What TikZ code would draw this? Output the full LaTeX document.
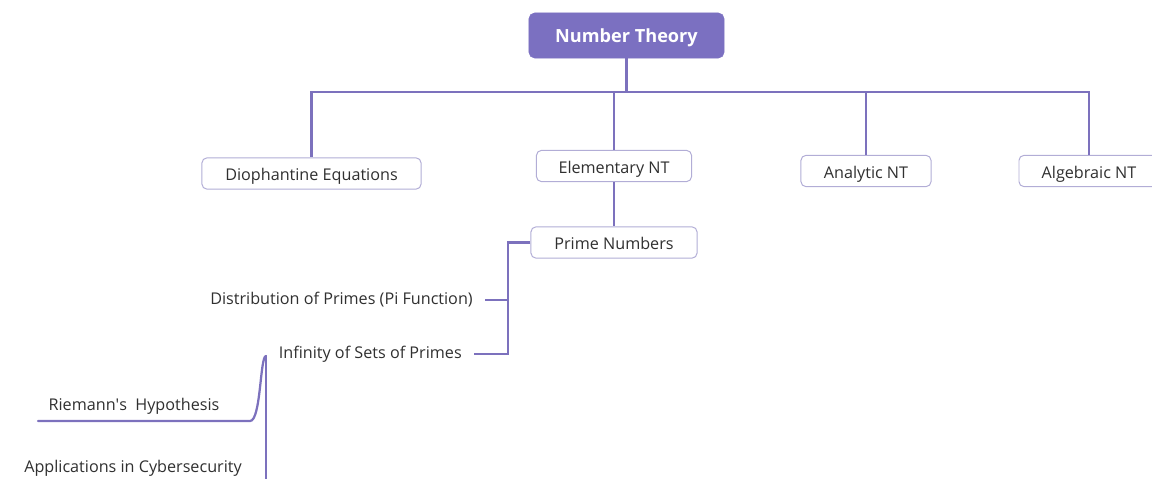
\documentclass[tikz,border=0pt]{standalone}
\usepackage{fontspec}
\setmainfont{Open Sans}
\usepackage{xcolor}
\usepackage{tikz}
\usetikzlibrary{positioning,calc}
\definecolor{NTpurple}{HTML}{7B70C1}
\definecolor{NTline}{HTML}{7C71BD}
\definecolor{NTedge}{HTML}{B2ADD6}
\definecolor{NTtext}{HTML}{303030}
\tikzset{
  rootbox/.style={rounded corners=4pt, fill=NTpurple, draw=NTpurple, text=white, font=\fontsize{12.9}{15}\selectfont\bfseries, minimum width=4.875cm, minimum height=1.125cm, text height=1.15em, text depth=0.1em},
  topicbox/.style={rounded corners=3.5pt, draw=NTedge, fill=white, line width=0.7pt, text=NTtext, font=\fontsize{11.5}{13}\selectfont, minimum height=0.78cm, text height=1.15em, text depth=0.1em},
  leaf/.style={text=NTtext, font=\fontsize{11.5}{13}\selectfont, inner xsep=0.3cm, inner ysep=2pt},
  linkline/.style={draw=NTline, line width=1.6pt, line cap=round},
  linkedge/.style={draw=NTline, line width=1.6pt}
}
\begin{document}
\begin{tikzpicture}[x=0.025cm, y=-0.025cm]
  \useasboundingbox (0,0) rectangle (1152,479);
  % main topic and first level
  \node[rootbox] (root) at (626.5,35.5) {Number Theory};
  \coordinate (bus) at (626.5,92);
  \node[topicbox, minimum width=5.475cm] (dio) at (311.5,173.5) {Diophantine Equations};
  \node[topicbox, minimum width=3.875cm] (ele) at (614,166) {Elementary NT};
  \node[topicbox, minimum width=3.25cm] (ana) at (866,171) {Analytic NT};
  \node[topicbox, minimum width=3.5cm] (alg) at (1089,171) {Algebraic NT};
  \draw[linkedge] (root) -- (bus);
  \draw[linkedge] (bus) -| (dio.north);
  \draw[linkedge] (bus) -| (ele.north);
  \draw[linkedge] (bus) -| (ana.north);
  \draw[linkedge] (bus) -| (alg.north);
  % prime numbers
  \node[topicbox, minimum width=4.15cm] (prime) at (614,242.5) {Prime Numbers};
  \draw[linkedge] (ele) -- (prime);
  \coordinate (pspine) at (508,242.5);
  \node[leaf, anchor=east] (dist) at (485,300) {Distribution of Primes (Pi Function)};
  \node[leaf, anchor=east] (inf) at (474,354) {Infinity of Sets of Primes};
  \draw[linkedge] (prime.west) -- (pspine) |- (dist.east);
  \draw[linkedge] (pspine) |- (inf.east);
  % infinity sub-branches
  \coordinate (ifork) at (266,356);
  \coordinate (afork) at (266,495);
  \coordinate (rstart) at (38,421);
  \node[leaf] (riem) at (134,406) {Riemann\textquotesingle s~~Hypothesis};
  \node[leaf] (appl) at (133,468) {Applications in Cybersecurity};
  \draw[linkline] (rstart) -- (250,421) .. controls (261,421) and (260,356) .. (ifork);
  \draw[linkline] (ifork) -- (afork);
\end{tikzpicture}
\end{document}
